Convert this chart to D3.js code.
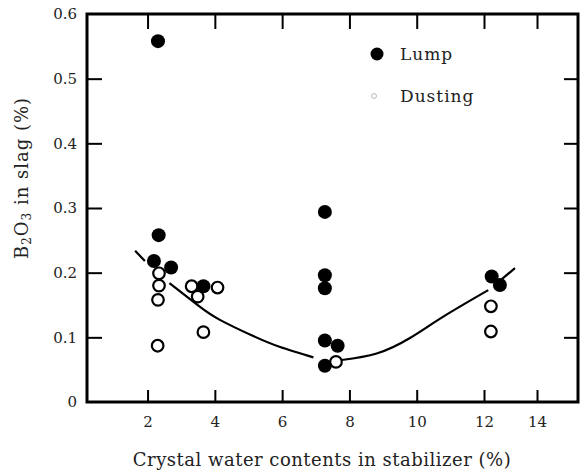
<!DOCTYPE html>
<html><head><meta charset="utf-8">
<script src="https://cdn.jsdelivr.net/npm/d3@7/dist/d3.min.js"></script>
<style>body{margin:0;background:#fff}svg{display:block}svg text{font-family:"DejaVu Serif","Liberation Serif","Times New Roman",Times,serif !important;fill:#222}</style>
</head><body><svg id="c" width="588" height="472"></svg>
<script>
const xTicks=[2,4,6,8,10,12,14];
const yTicks=[0,0.1,0.2,0.3,0.4,0.5,0.6];
const yTickLabels=["0","0.1","0.2","0.3","0.4","0.5","0.6"];
const lumpX=[2.31,2.33,2.19,2.70,3.66,7.27,7.27,7.27,7.27,7.65,7.27,12.29,12.6];
const lumpY=[0.558,0.258,0.218,0.208,0.179,0.294,0.196,0.176,0.095,0.087,0.056,0.194,0.181];
const dustX=[2.34,2.34,2.31,2.30,3.31,4.08,3.49,3.66,7.60,12.26,12.26];
const dustY=[0.199,0.180,0.158,0.087,0.179,0.177,0.163,0.108,0.062,0.148,0.109];
const curveSegs=[
 {x:[1.63,1.92],y:[0.234,0.218]},
 {x:[2.65,3.51,4.15,5.14,5.94,6.93],y:[0.184,0.149,0.127,0.102,0.085,0.069]},
 {x:[7.77,8.81,9.80,10.79,12.16],y:[0.065,0.075,0.099,0.132,0.173]},
 {x:[12.67,13.17],y:[0.190,0.207]}
];
const legendLabels=["Lump","Dusting"];

const svg=d3.select("#c");
const L=87,R=578,T=14,B=402;
const x=d3.scaleLinear().domain([0.2,12,14,15.5]).range([L,484,537,R]);
const y=d3.scaleLinear().domain([0,0.6]).range([B,T]);

// curve
const line=d3.line().x(d=>x(d[0])).y(d=>y(d[1])).curve(d3.curveNatural);
curveSegs.forEach(s=>{
  svg.append("path").datum(s.x.map((v,i)=>[v,s.y[i]])).attr("d",line)
    .attr("fill","none").attr("stroke","#000").attr("stroke-width",2.2);
});

// axes
const gB=svg.append("g").attr("transform",`translate(0,${B})`)
  .call(d3.axisBottom(x).tickValues(xTicks).tickSize(-12).tickPadding(14).tickFormat(d3.format("d")));
const gT=svg.append("g").attr("transform",`translate(0,${T})`)
  .call(d3.axisTop(x).tickValues(xTicks).tickSize(-15).tickFormat(""));
const gL=svg.append("g").attr("transform",`translate(${L},0)`)
  .call(d3.axisLeft(y).tickValues(yTicks).tickSize(-15).tickPadding(10).tickFormat((d,i)=>yTickLabels[i]));
const gR=svg.append("g").attr("transform",`translate(${R},0)`)
  .call(d3.axisRight(y).tickValues(yTicks.slice(1,6)).tickSize(-14).tickFormat(""));
[gB,gT,gL,gR].forEach(g=>{
  g.attr("font-family",null).attr("font-size",null);
  g.select(".domain").remove();
  g.selectAll(".tick line").attr("stroke","#000").attr("stroke-width",2);
  g.selectAll(".tick text").style("font-size","15px").attr("fill","#222");
});
gL.selectAll(".tick").filter(d=>d===0||d===0.6).select("line").remove();

svg.append("rect").attr("x",L).attr("y",T).attr("width",R-L).attr("height",B-T)
  .attr("fill","none").attr("stroke","#000").attr("stroke-width",3);

// points
svg.append("g").selectAll("circle").data(dustX.map((v,i)=>[v,dustY[i]])).join("circle")
  .attr("cx",d=>x(d[0])).attr("cy",d=>y(d[1])).attr("r",5.8)
  .attr("fill","#fff").attr("stroke","#000").attr("stroke-width",2.2);
svg.append("g").selectAll("circle").data(lumpX.map((v,i)=>[v,lumpY[i]])).join("circle")
  .attr("cx",d=>x(d[0])).attr("cy",d=>y(d[1])).attr("r",7)
  .attr("fill","#000");

// legend
svg.append("circle").attr("cx",377).attr("cy",54).attr("r",6.5).attr("fill","#000");
svg.append("circle").attr("cx",374).attr("cy",96).attr("r",2.5).attr("fill","none").attr("stroke","#bbb").attr("stroke-width",1);
svg.append("text").attr("x",400).attr("y",60).style("font-size","17px").style("letter-spacing","1px").text(legendLabels[0]);
svg.append("text").attr("x",400).attr("y",102).style("font-size","17px").style("letter-spacing","1px").text(legendLabels[1]);

// titles
svg.append("text").attr("x",322).attr("y",466).attr("text-anchor","middle").style("font-size","18px").style("letter-spacing","0.5px")
  .text("Crystal water contents in stabilizer (%)");
const yl=svg.append("text").attr("transform","translate(28,178) rotate(-90)").attr("text-anchor","middle").style("font-size","18px").style("letter-spacing","1px");
yl.append("tspan").text("B");
yl.append("tspan").attr("dy",3).style("font-size","12px").text("2");
yl.append("tspan").attr("dy",-3).text("O");
yl.append("tspan").attr("dy",3).style("font-size","12px").text("3");
yl.append("tspan").attr("dy",-3).text(" in slag (%)");
</script></body></html>
